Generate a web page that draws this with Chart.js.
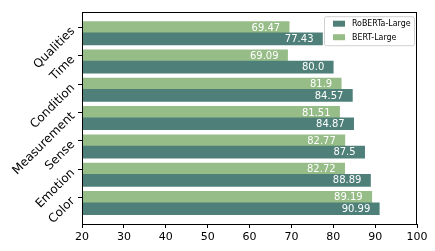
<!DOCTYPE html>
<html>
<head>
<meta charset="utf-8">
<script src="https://cdn.jsdelivr.net/npm/chart.js@4"></script>
<style>
  html, body { margin: 0; padding: 0; background: #fff; }
  #wrap { width: 435px; height: 251px; }
</style>
</head>
<body>
<div id="wrap"><canvas id="scoreChart" width="435" height="251"></canvas></div>
<script>
var categories = ['Qualities', 'Time', 'Condition', 'Measurement', 'Sense', 'Emotion', 'Color'];
var robertaScores = [77.43, 80.0, 84.57, 84.87, 87.5, 88.89, 90.99];
var bertScores = [69.47, 69.09, 81.9, 81.51, 82.77, 82.72, 89.19];
var xTicks = [20, 30, 40, 50, 60, 70, 80, 90, 100];

var tealColor = 'rgb(78, 128, 121)';
var greenColor = 'rgb(150, 188, 135)';
var fontName = '"DejaVu Sans", sans-serif';
var narrowFont = '"DejaVu Sans Condensed", "DejaVu Sans", sans-serif';

// bert bar sits on the category position, roberta one bar-height below it
function toPoints(values, shift) {
  return values.map(function (v, i) { return { x: v, y: i + shift }; });
}

function fmt(v) {
  return v % 1 === 0 ? v.toFixed(1) : String(v);
}

var valueLabels = {
  id: 'valueLabels',
  afterDatasetsDraw: function (chart) {
    var ctx = chart.ctx;
    ctx.save();
    ctx.fillStyle = '#fff';
    ctx.font = '10px ' + fontName;
    ctx.textAlign = 'right';
    ctx.textBaseline = 'middle';
    chart.data.datasets.forEach(function (ds, di) {
      chart.getDatasetMeta(di).data.forEach(function (bar, i) {
        ctx.fillText(fmt(ds.data[i].x), bar.x - 9, bar.y + 0.5);
      });
    });
    ctx.restore();
  }
};

var frameAndLegend = {
  id: 'frameAndLegend',
  afterDraw: function (chart) {
    var ctx = chart.ctx;
    var a = chart.chartArea;
    ctx.save();
    ctx.strokeStyle = '#000';
    ctx.lineWidth = 1;
    ctx.strokeRect(Math.round(a.left) + 0.5, Math.round(a.top) + 0.5,
      Math.round(a.right - a.left) - 1, Math.round(a.bottom - a.top));

    // legend box in the upper right corner
    var bx = a.right - 93, by = a.top + 4, bw = 90, bh = 29;
    ctx.fillStyle = 'rgba(255,255,255,0.8)';
    ctx.strokeStyle = '#d0d0d0';
    ctx.beginPath();
    ctx.roundRect(bx + 0.5, by + 0.5, bw, bh, 2);
    ctx.fill();
    ctx.stroke();
    ctx.font = '8.8px ' + narrowFont;
    ctx.textAlign = 'left';
    ctx.textBaseline = 'middle';
    chart.data.datasets.forEach(function (ds, di) {
      var cy = by + 7.5 + di * 13.5;
      ctx.fillStyle = ds.backgroundColor;
      ctx.fillRect(bx + 9, cy - 3, 12, 6);
      ctx.fillStyle = '#000';
      ctx.fillText(ds.label, bx + 28, cy + 0.5);
    });
    ctx.restore();
  }
};

var config = {
  type: 'bar',
  data: {
    datasets: [
      {
        label: 'RoBERTa-Large',
        data: toPoints(robertaScores, 0.4),
        backgroundColor: tealColor,
        barThickness: 12,
        grouped: false,
      },
      {
        label: 'BERT-Large',
        data: toPoints(bertScores, 0),
        backgroundColor: greenColor,
        barThickness: 12,
        grouped: false,
      },
    ],
  },
  options: {
    indexAxis: 'y',
    responsive: false,
    animation: false,
    layout: { padding: { top: 6, right: 18, bottom: 0, left: 0 } },
    plugins: { legend: { display: false }, tooltip: { enabled: false } },
    scales: {
      x: {
        type: 'linear',
        min: 20,
        max: 100,
        afterBuildTicks: function (s) { s.ticks = xTicks.map(function (v) { return { value: v }; }); },
        afterFit: function (s) { s.height = 27; },
        grid: { drawOnChartArea: false, drawTicks: true, tickLength: 4, color: '#000' },
        border: { display: true, color: '#000' },
        ticks: { color: '#000', font: { family: fontName, size: 11 }, padding: 3, maxRotation: 0 },
      },
      y: {
        type: 'linear',
        reverse: true,
        offset: false,
        min: -0.54,
        max: 6.94,
        afterBuildTicks: function (s) { s.ticks = categories.map(function (c, i) { return { value: i }; }); },
        afterFit: function (s) { s.width = 82; },
        grid: { offset: false, drawOnChartArea: false, drawTicks: true, tickLength: 4, color: '#000' },
        border: { display: true, color: '#000' },
        ticks: {
          color: '#000',
          font: { family: fontName, size: 12 },
          padding: 5,
          labelOffset: 2,
          minRotation: 45,
          maxRotation: 45,
          callback: function (v) { return categories[v]; },
        },
      },
    },
  },
  plugins: [valueLabels, frameAndLegend],
};

var scoreChart = new Chart(document.getElementById('scoreChart'), config);
</script>
</body>
</html>
